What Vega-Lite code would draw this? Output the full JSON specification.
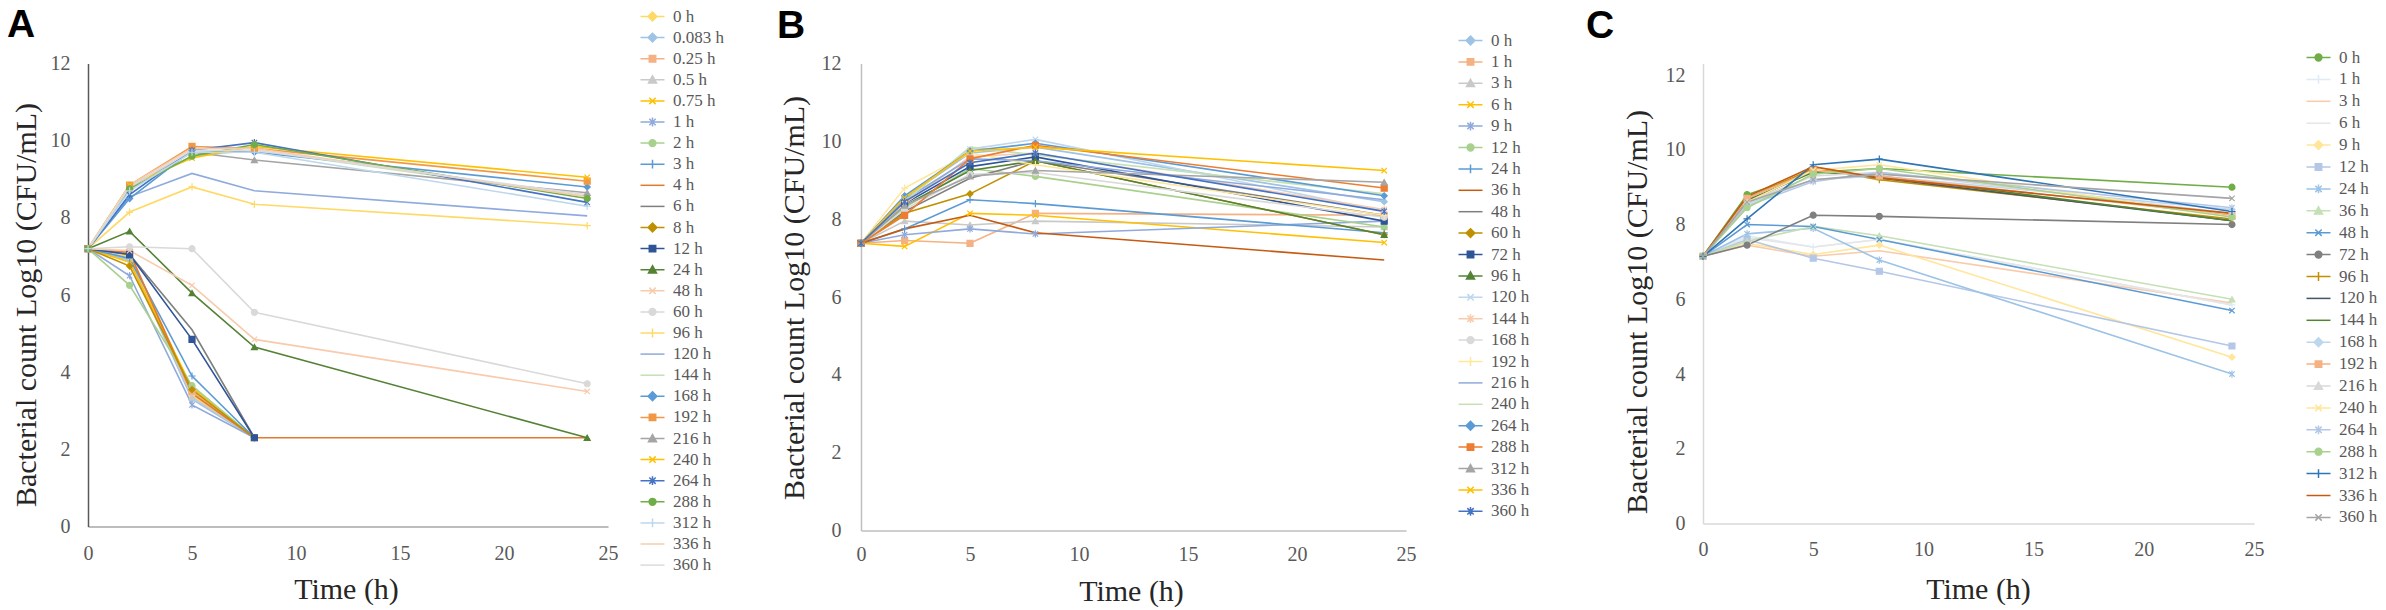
{
"$schema": "https://vega.github.io/schema/vega-lite/v6.json",
"background": "white",
"padding": {"left": 7, "top": 5.5, "right": 0, "bottom": 0},
"config": {"view": {"stroke": null}, "legend": {"labelFont": "Liberation Serif", "labelFontSize": 17, "labelColor": "#595959", "symbolSize": 64, "symbolStrokeWidth": 1.5, "labelOffset": 12, "padding": 0, "symbolLimit": 60, "labelLimit": 200}},
"datasets": {
"A": [
{"series":"0 h","time":0,"count":7.2},{"series":"0 h","time":2,"count":7.0},{"series":"0 h","time":5,"count":3.4},{"series":"0 h","time":8,"count":2.3},
{"series":"0.083 h","time":0,"count":7.2},{"series":"0.083 h","time":2,"count":6.9},{"series":"0.083 h","time":5,"count":3.3},{"series":"0.083 h","time":8,"count":2.3},
{"series":"0.25 h","time":0,"count":7.2},{"series":"0.25 h","time":2,"count":7.1},{"series":"0.25 h","time":5,"count":3.5},{"series":"0.25 h","time":8,"count":2.3},
{"series":"0.5 h","time":0,"count":7.2},{"series":"0.5 h","time":2,"count":6.95},{"series":"0.5 h","time":5,"count":3.35},{"series":"0.5 h","time":8,"count":2.3},
{"series":"0.75 h","time":0,"count":7.2},{"series":"0.75 h","time":2,"count":6.85},{"series":"0.75 h","time":5,"count":3.6},{"series":"0.75 h","time":8,"count":2.3},
{"series":"1 h","time":0,"count":7.2},{"series":"1 h","time":2,"count":6.5},{"series":"1 h","time":5,"count":3.15},{"series":"1 h","time":8,"count":2.3},
{"series":"2 h","time":0,"count":7.2},{"series":"2 h","time":2,"count":6.25},{"series":"2 h","time":5,"count":3.65},{"series":"2 h","time":8,"count":2.3},
{"series":"3 h","time":0,"count":7.2},{"series":"3 h","time":2,"count":6.95},{"series":"3 h","time":5,"count":3.9},{"series":"3 h","time":8,"count":2.3},
{"series":"4 h","time":0,"count":7.2},{"series":"4 h","time":2,"count":7.1},{"series":"4 h","time":5,"count":3.45},{"series":"4 h","time":8,"count":2.3},{"series":"4 h","time":24,"count":2.3},
{"series":"6 h","time":0,"count":7.2},{"series":"6 h","time":2,"count":7.05},{"series":"6 h","time":5,"count":5.1},{"series":"6 h","time":8,"count":2.3},
{"series":"8 h","time":0,"count":7.2},{"series":"8 h","time":2,"count":6.75},{"series":"8 h","time":5,"count":3.55},{"series":"8 h","time":8,"count":2.3},
{"series":"12 h","time":0,"count":7.2},{"series":"12 h","time":2,"count":7.05},{"series":"12 h","time":5,"count":4.85},{"series":"12 h","time":8,"count":2.3},
{"series":"24 h","time":0,"count":7.2},{"series":"24 h","time":2,"count":7.65},{"series":"24 h","time":5,"count":6.05},{"series":"24 h","time":8,"count":4.65},{"series":"24 h","time":24,"count":2.3},
{"series":"48 h","time":0,"count":7.2},{"series":"48 h","time":2,"count":7.15},{"series":"48 h","time":5,"count":6.25},{"series":"48 h","time":8,"count":4.85},{"series":"48 h","time":24,"count":3.5},
{"series":"60 h","time":0,"count":7.2},{"series":"60 h","time":2,"count":7.25},{"series":"60 h","time":5,"count":7.2},{"series":"60 h","time":8,"count":5.55},{"series":"60 h","time":24,"count":3.7},
{"series":"96 h","time":0,"count":7.2},{"series":"96 h","time":2,"count":8.15},{"series":"96 h","time":5,"count":8.8},{"series":"96 h","time":8,"count":8.35},{"series":"96 h","time":24,"count":7.8},
{"series":"120 h","time":0,"count":7.2},{"series":"120 h","time":2,"count":8.55},{"series":"120 h","time":5,"count":9.15},{"series":"120 h","time":8,"count":8.7},{"series":"120 h","time":24,"count":8.05},
{"series":"144 h","time":0,"count":7.2},{"series":"144 h","time":2,"count":8.75},{"series":"144 h","time":5,"count":9.6},{"series":"144 h","time":8,"count":9.75},{"series":"144 h","time":24,"count":8.55},
{"series":"168 h","time":0,"count":7.2},{"series":"168 h","time":2,"count":8.5},{"series":"168 h","time":5,"count":9.75},{"series":"168 h","time":8,"count":9.7},{"series":"168 h","time":24,"count":8.8},
{"series":"192 h","time":0,"count":7.2},{"series":"192 h","time":2,"count":8.85},{"series":"192 h","time":5,"count":9.85},{"series":"192 h","time":8,"count":9.8},{"series":"192 h","time":24,"count":8.95},
{"series":"216 h","time":0,"count":7.2},{"series":"216 h","time":2,"count":8.8},{"series":"216 h","time":5,"count":9.7},{"series":"216 h","time":8,"count":9.5},{"series":"216 h","time":24,"count":8.65},
{"series":"240 h","time":0,"count":7.2},{"series":"240 h","time":2,"count":8.85},{"series":"240 h","time":5,"count":9.55},{"series":"240 h","time":8,"count":9.85},{"series":"240 h","time":24,"count":9.05},
{"series":"264 h","time":0,"count":7.2},{"series":"264 h","time":2,"count":8.6},{"series":"264 h","time":5,"count":9.75},{"series":"264 h","time":8,"count":9.95},{"series":"264 h","time":24,"count":8.4},
{"series":"288 h","time":0,"count":7.2},{"series":"288 h","time":2,"count":8.75},{"series":"288 h","time":5,"count":9.6},{"series":"288 h","time":8,"count":9.9},{"series":"288 h","time":24,"count":8.5},
{"series":"312 h","time":0,"count":7.2},{"series":"312 h","time":2,"count":8.7},{"series":"312 h","time":5,"count":9.7},{"series":"312 h","time":8,"count":9.7},{"series":"312 h","time":24,"count":8.3},
{"series":"336 h","time":0,"count":7.2},{"series":"336 h","time":2,"count":8.85},{"series":"336 h","time":5,"count":9.8},{"series":"336 h","time":8,"count":9.8},{"series":"336 h","time":24,"count":8.55},
{"series":"360 h","time":0,"count":7.2},{"series":"360 h","time":2,"count":8.8},{"series":"360 h","time":5,"count":9.75},{"series":"360 h","time":8,"count":9.75},{"series":"360 h","time":24,"count":8.6}
],
"B": [
{"series":"0 h","time":0,"count":7.38},{"series":"0 h","time":2,"count":8.55},{"series":"0 h","time":5,"count":9.7},{"series":"0 h","time":8,"count":9.85},{"series":"0 h","time":24,"count":8.45},
{"series":"1 h","time":0,"count":7.38},{"series":"1 h","time":2,"count":7.45},{"series":"1 h","time":5,"count":7.38},{"series":"1 h","time":8,"count":8.15},{"series":"1 h","time":24,"count":8.1},
{"series":"3 h","time":0,"count":7.38},{"series":"3 h","time":2,"count":7.95},{"series":"3 h","time":5,"count":7.85},{"series":"3 h","time":8,"count":7.95},{"series":"3 h","time":24,"count":7.8},
{"series":"6 h","time":0,"count":7.38},{"series":"6 h","time":2,"count":7.3},{"series":"6 h","time":5,"count":8.15},{"series":"6 h","time":8,"count":8.1},{"series":"6 h","time":24,"count":7.4},
{"series":"9 h","time":0,"count":7.38},{"series":"9 h","time":2,"count":7.6},{"series":"9 h","time":5,"count":7.75},{"series":"9 h","time":8,"count":7.62},{"series":"9 h","time":24,"count":7.95},
{"series":"12 h","time":0,"count":7.38},{"series":"12 h","time":2,"count":8.3},{"series":"12 h","time":5,"count":9.3},{"series":"12 h","time":8,"count":9.1},{"series":"12 h","time":24,"count":7.8},
{"series":"24 h","time":0,"count":7.38},{"series":"24 h","time":2,"count":7.75},{"series":"24 h","time":5,"count":8.5},{"series":"24 h","time":8,"count":8.4},{"series":"24 h","time":24,"count":7.65},
{"series":"36 h","time":0,"count":7.38},{"series":"36 h","time":2,"count":7.75},{"series":"36 h","time":5,"count":8.1},{"series":"36 h","time":8,"count":7.65},{"series":"36 h","time":24,"count":6.95},
{"series":"48 h","time":0,"count":7.38},{"series":"48 h","time":2,"count":8.2},{"series":"48 h","time":5,"count":9.05},{"series":"48 h","time":8,"count":9.5},{"series":"48 h","time":24,"count":8.1},
{"series":"60 h","time":0,"count":7.38},{"series":"60 h","time":2,"count":8.15},{"series":"60 h","time":5,"count":8.65},{"series":"60 h","time":8,"count":9.5},{"series":"60 h","time":24,"count":7.6},
{"series":"72 h","time":0,"count":7.38},{"series":"72 h","time":2,"count":8.4},{"series":"72 h","time":5,"count":9.35},{"series":"72 h","time":8,"count":9.6},{"series":"72 h","time":24,"count":7.95},
{"series":"96 h","time":0,"count":7.38},{"series":"96 h","time":2,"count":8.35},{"series":"96 h","time":5,"count":9.25},{"series":"96 h","time":8,"count":9.5},{"series":"96 h","time":24,"count":7.6},
{"series":"120 h","time":0,"count":7.38},{"series":"120 h","time":2,"count":8.5},{"series":"120 h","time":5,"count":9.8},{"series":"120 h","time":8,"count":10.05},{"series":"120 h","time":24,"count":8.2},
{"series":"144 h","time":0,"count":7.38},{"series":"144 h","time":2,"count":8.4},{"series":"144 h","time":5,"count":9.6},{"series":"144 h","time":8,"count":9.7},{"series":"144 h","time":24,"count":8.25},
{"series":"168 h","time":0,"count":7.38},{"series":"168 h","time":2,"count":8.25},{"series":"168 h","time":5,"count":9.15},{"series":"168 h","time":8,"count":9.2},{"series":"168 h","time":24,"count":8.05},
{"series":"192 h","time":0,"count":7.38},{"series":"192 h","time":2,"count":8.8},{"series":"192 h","time":5,"count":9.7},{"series":"192 h","time":8,"count":9.4},{"series":"192 h","time":24,"count":8.1},
{"series":"216 h","time":0,"count":7.38},{"series":"216 h","time":2,"count":8.5},{"series":"216 h","time":5,"count":9.55},{"series":"216 h","time":8,"count":9.5},{"series":"216 h","time":24,"count":8.5},
{"series":"240 h","time":0,"count":7.38},{"series":"240 h","time":2,"count":8.45},{"series":"240 h","time":5,"count":9.85},{"series":"240 h","time":8,"count":9.65},{"series":"240 h","time":24,"count":8.65},
{"series":"264 h","time":0,"count":7.38},{"series":"264 h","time":2,"count":8.6},{"series":"264 h","time":5,"count":9.75},{"series":"264 h","time":8,"count":9.95},{"series":"264 h","time":24,"count":8.6},
{"series":"288 h","time":0,"count":7.38},{"series":"288 h","time":2,"count":8.1},{"series":"288 h","time":5,"count":9.55},{"series":"288 h","time":8,"count":9.9},{"series":"288 h","time":24,"count":8.8},
{"series":"312 h","time":0,"count":7.38},{"series":"312 h","time":2,"count":8.35},{"series":"312 h","time":5,"count":9.1},{"series":"312 h","time":8,"count":9.25},{"series":"312 h","time":24,"count":8.95},
{"series":"336 h","time":0,"count":7.38},{"series":"336 h","time":2,"count":8.55},{"series":"336 h","time":5,"count":9.75},{"series":"336 h","time":8,"count":9.85},{"series":"336 h","time":24,"count":9.25},
{"series":"360 h","time":0,"count":7.38},{"series":"360 h","time":2,"count":8.45},{"series":"360 h","time":5,"count":9.45},{"series":"360 h","time":8,"count":9.7},{"series":"360 h","time":24,"count":8.2}
],
"C": [
{"series":"0 h","time":0,"count":7.15},{"series":"0 h","time":2,"count":8.8},{"series":"0 h","time":5,"count":9.4},{"series":"0 h","time":8,"count":9.5},{"series":"0 h","time":24,"count":9.0},
{"series":"1 h","time":0,"count":7.15},{"series":"1 h","time":2,"count":7.7},{"series":"1 h","time":5,"count":7.4},{"series":"1 h","time":8,"count":7.6},{"series":"1 h","time":24,"count":5.85},
{"series":"3 h","time":0,"count":7.15},{"series":"3 h","time":2,"count":7.45},{"series":"3 h","time":5,"count":7.15},{"series":"3 h","time":8,"count":7.3},{"series":"3 h","time":24,"count":5.9},
{"series":"6 h","time":0,"count":7.15},{"series":"6 h","time":2,"count":7.65},{"series":"6 h","time":5,"count":7.4},{"series":"6 h","time":8,"count":7.6},{"series":"6 h","time":24,"count":5.85},
{"series":"9 h","time":0,"count":7.15},{"series":"9 h","time":2,"count":7.5},{"series":"9 h","time":5,"count":7.2},{"series":"9 h","time":8,"count":7.45},{"series":"9 h","time":24,"count":4.45},
{"series":"12 h","time":0,"count":7.15},{"series":"12 h","time":2,"count":7.6},{"series":"12 h","time":5,"count":7.1},{"series":"12 h","time":8,"count":6.75},{"series":"12 h","time":24,"count":4.75},
{"series":"24 h","time":0,"count":7.15},{"series":"24 h","time":2,"count":7.75},{"series":"24 h","time":5,"count":7.9},{"series":"24 h","time":8,"count":7.05},{"series":"24 h","time":24,"count":4.0},
{"series":"36 h","time":0,"count":7.15},{"series":"36 h","time":2,"count":7.55},{"series":"36 h","time":5,"count":7.95},{"series":"36 h","time":8,"count":7.7},{"series":"36 h","time":24,"count":6.0},
{"series":"48 h","time":0,"count":7.15},{"series":"48 h","time":2,"count":8.0},{"series":"48 h","time":5,"count":7.95},{"series":"48 h","time":8,"count":7.6},{"series":"48 h","time":24,"count":5.7},
{"series":"72 h","time":0,"count":7.15},{"series":"72 h","time":2,"count":7.45},{"series":"72 h","time":5,"count":8.25},{"series":"72 h","time":8,"count":8.22},{"series":"72 h","time":24,"count":8.0},
{"series":"96 h","time":0,"count":7.15},{"series":"96 h","time":2,"count":8.7},{"series":"96 h","time":5,"count":9.5},{"series":"96 h","time":8,"count":9.2},{"series":"96 h","time":24,"count":8.15},
{"series":"120 h","time":0,"count":7.15},{"series":"120 h","time":2,"count":8.6},{"series":"120 h","time":5,"count":9.45},{"series":"120 h","time":8,"count":9.25},{"series":"120 h","time":24,"count":8.1},
{"series":"144 h","time":0,"count":7.15},{"series":"144 h","time":2,"count":8.65},{"series":"144 h","time":5,"count":9.4},{"series":"144 h","time":8,"count":9.3},{"series":"144 h","time":24,"count":8.1},
{"series":"168 h","time":0,"count":7.15},{"series":"168 h","time":2,"count":8.55},{"series":"168 h","time":5,"count":9.2},{"series":"168 h","time":8,"count":9.3},{"series":"168 h","time":24,"count":8.4},
{"series":"192 h","time":0,"count":7.15},{"series":"192 h","time":2,"count":8.7},{"series":"192 h","time":5,"count":9.45},{"series":"192 h","time":8,"count":9.3},{"series":"192 h","time":24,"count":8.25},
{"series":"216 h","time":0,"count":7.15},{"series":"216 h","time":2,"count":8.6},{"series":"216 h","time":5,"count":9.3},{"series":"216 h","time":8,"count":9.4},{"series":"216 h","time":24,"count":8.3},
{"series":"240 h","time":0,"count":7.15},{"series":"240 h","time":2,"count":8.6},{"series":"240 h","time":5,"count":9.45},{"series":"240 h","time":8,"count":9.6},{"series":"240 h","time":24,"count":8.2},
{"series":"264 h","time":0,"count":7.15},{"series":"264 h","time":2,"count":8.5},{"series":"264 h","time":5,"count":9.15},{"series":"264 h","time":8,"count":9.4},{"series":"264 h","time":24,"count":8.45},
{"series":"288 h","time":0,"count":7.15},{"series":"288 h","time":2,"count":8.45},{"series":"288 h","time":5,"count":9.35},{"series":"288 h","time":8,"count":9.5},{"series":"288 h","time":24,"count":8.2},
{"series":"312 h","time":0,"count":7.15},{"series":"312 h","time":2,"count":8.15},{"series":"312 h","time":5,"count":9.6},{"series":"312 h","time":8,"count":9.75},{"series":"312 h","time":24,"count":8.35},
{"series":"336 h","time":0,"count":7.15},{"series":"336 h","time":2,"count":8.75},{"series":"336 h","time":5,"count":9.55},{"series":"336 h","time":8,"count":9.25},{"series":"336 h","time":24,"count":8.3},
{"series":"360 h","time":0,"count":7.15},{"series":"360 h","time":2,"count":8.6},{"series":"360 h","time":5,"count":9.2},{"series":"360 h","time":8,"count":9.35},{"series":"360 h","time":24,"count":8.7}
]
},
"bounds": "flush",
"spacing": 253,
"resolve": {"scale": {"color": "independent", "fill": "independent", "stroke": "independent", "shape": "independent"}, "legend": {"color": "independent", "fill": "independent", "stroke": "independent", "shape": "independent"}},
"hconcat": [
{
"width": 520, "height": 463,
"data": {"name": "A"},
"title": {"text": "A", "anchor": "start", "frame": "group", "font": "Liberation Sans", "fontSize": 39, "fontWeight": "bold", "color": "#000000", "dx": -81, "dy": 35, "offset": -32.5, "baseline": "alphabetic"},
"encoding": {
"x": {"field": "time", "type": "quantitative", "scale": {"domain": [0, 25], "nice": false}, "axis": {"values": [0,5,10,15,20,25], "title": "Time (h)", "grid": false, "ticks": false, "domainColor": "#A6A6A6", "domainWidth": 1.5, "labelFont": "Liberation Serif", "labelFontSize": 20, "labelColor": "#595959", "labelPadding": 17, "labelFlush": false, "titleFont": "Liberation Serif", "titleFontSize": 30, "titleFontWeight": "normal", "titleColor": "#262626", "titleBaseline": "alphabetic", "titleX": 258, "titleY": 72}},
"y": {"field": "count", "type": "quantitative", "scale": {"domain": [0, 12], "nice": false}, "axis": {"values": [0,2,4,6,8,10,12], "title": "Bacterial count Log10 (CFU/mL)", "grid": false, "ticks": false, "domainColor": "#595959", "domainWidth": 1.5, "labelFont": "Liberation Serif", "labelFontSize": 20, "labelColor": "#595959", "labelPadding": 18, "titleFont": "Liberation Serif", "titleFontSize": 30, "titleFontWeight": "normal", "titleColor": "#262626", "titleBaseline": "alphabetic", "titleAngle": 270, "titleX": -53, "titleY": 241}}
},
"layer": [
{"mark": {"type": "line", "strokeWidth": 1.6}, "encoding": {"color": {"field": "series", "type": "nominal",
 "scale": {"domain": ["0 h","0.083 h","0.25 h","0.5 h","0.75 h","1 h","2 h","3 h","4 h","6 h","8 h","12 h","24 h","48 h","60 h","96 h","120 h","144 h","168 h","192 h","216 h","240 h","264 h","288 h","312 h","336 h","360 h"],
 "range": ["#FFD966","#9DC3E6","#F4B183","#C9C9C9","#FFC000","#8FAADC","#A9D18E","#5B9BD5","#E07A2E","#7F7F7F","#BF9000","#2F5597","#548235","#F8CBAD","#D9D9D9","#FFD966","#8FAADC","#C5E0B4","#5B9BD5","#F09845","#A5A5A5","#FFC000","#4472C4","#70AD47","#BDD7EE","#F8CBAD","#DBDBDB"]},
 "legend": {"orient": "none", "legendX": 556, "legendY": -55.5, "title": null, "padding": 0, "symbolSize": 64, "symbolStrokeWidth": 1.5, "labelOffset": 12, "rowPadding": 3.1, "labelFont": "Liberation Serif", "labelFontSize": 17, "labelColor": "#595959", "labelLimit": 200, "symbolLimit": 60,
  "encode": {"labels": {"update": {"font": {"value": "Liberation Serif"}, "fontSize": {"value": 17}, "fill": {"value": "#595959"}}}, "symbols": {"update": {
   "shape": {"signal": "['M-3,0L3,0M0,-1.1L1.1,0L0,1.1L-1.1,0Z','M-3,0L3,0M-0.8,-0.8L0.8,-0.8L0.8,0.8L-0.8,0.8Z','M-3,0L3,0M0,-1L1,0.8L-1,0.8Z','M-3,0L3,0M0.85,0A0.85,0.85,0,1,1,-0.85,0A0.85,0.85,0,1,1,0.85,0Z','M-3,0L3,0M-0.8,-0.8L0.8,0.8M-0.8,0.8L0.8,-0.8','M-3,0L3,0M-0.8,-0.8L0.8,0.8M-0.8,0.8L0.8,-0.8M0,-1.1L0,1.1','M-3,0L3,0M0,-1.1L0,1.1','M-3,0L3,0'][[0,0,1,2,4,5,3,6,7,7,0,1,2,4,3,6,7,7,0,1,2,4,5,3,6,7,7][datum.index]]"},
   "stroke": {"signal": "['#FFD966','#9DC3E6','#F4B183','#C9C9C9','#FFC000','#8FAADC','#A9D18E','#5B9BD5','#E07A2E','#7F7F7F','#BF9000','#2F5597','#548235','#F8CBAD','#D9D9D9','#FFD966','#8FAADC','#C5E0B4','#5B9BD5','#F09845','#A5A5A5','#FFC000','#4472C4','#70AD47','#BDD7EE','#F8CBAD','#DBDBDB'][datum.index]"},
   "fill": {"signal": "[0,0,1,2,4,5,3,6,7,7,0,1,2,4,3,6,7,7,0,1,2,4,5,3,6,7,7][datum.index] <= 3 ? ['#FFD966','#9DC3E6','#F4B183','#C9C9C9','#FFC000','#8FAADC','#A9D18E','#5B9BD5','#E07A2E','#7F7F7F','#BF9000','#2F5597','#548235','#F8CBAD','#D9D9D9','#FFD966','#8FAADC','#C5E0B4','#5B9BD5','#F09845','#A5A5A5','#FFC000','#4472C4','#70AD47','#BDD7EE','#F8CBAD','#DBDBDB'][datum.index] : 'transparent'"},
   "opacity": {"value": 1}
  }}}}}}},
{"mark": {"type": "point", "filled": true, "size": 36, "strokeWidth": 1.2, "opacity": 1}, "encoding": {
 "fill": {"field": "series", "type": "nominal", "legend": null, "scale": {"domain": ["0 h","0.083 h","0.25 h","0.5 h","0.75 h","1 h","2 h","3 h","4 h","6 h","8 h","12 h","24 h","48 h","60 h","96 h","120 h","144 h","168 h","192 h","216 h","240 h","264 h","288 h","312 h","336 h","360 h","zz"], "range": ["#FFD966","#9DC3E6","#F4B183","#C9C9C9","#FFC000","#8FAADC","#A9D18E","#5B9BD5","#E07A2E","#7F7F7F","#BF9000","#2F5597","#548235","#F8CBAD","#D9D9D9","#FFD966","#8FAADC","#C5E0B4","#5B9BD5","#F09845","#A5A5A5","#FFC000","#4472C4","#70AD47","#BDD7EE","#F8CBAD","#DBDBDB","#000000"]}},
 "stroke": {"field": "series", "type": "nominal", "legend": null, "scale": {"domain": ["0 h","0.083 h","0.25 h","0.5 h","0.75 h","1 h","2 h","3 h","4 h","6 h","8 h","12 h","24 h","48 h","60 h","96 h","120 h","144 h","168 h","192 h","216 h","240 h","264 h","288 h","312 h","336 h","360 h","zz"], "range": ["#FFD966","#9DC3E6","#F4B183","#C9C9C9","#FFC000","#8FAADC","#A9D18E","#5B9BD5","#E07A2E","#7F7F7F","#BF9000","#2F5597","#548235","#F8CBAD","#D9D9D9","#FFD966","#8FAADC","#C5E0B4","#5B9BD5","#F09845","#A5A5A5","#FFC000","#4472C4","#70AD47","#BDD7EE","#F8CBAD","#DBDBDB","#000000"]}},
 "shape": {"field": "series", "type": "nominal", "legend": null, "scale": {"domain": ["0 h","0.083 h","0.25 h","0.5 h","0.75 h","1 h","2 h","3 h","4 h","6 h","8 h","12 h","24 h","48 h","60 h","96 h","120 h","144 h","168 h","192 h","216 h","240 h","264 h","288 h","312 h","336 h","360 h","zz"], "range": ["diamond","diamond","square","triangle-up","M-0.9,-0.9L0.9,0.9M-0.9,0.9L0.9,-0.9","M-0.9,-0.9L0.9,0.9M-0.9,0.9L0.9,-0.9M0,-1.2L0,1.2","circle","M-1.2,0L1.2,0M0,-1.2L0,1.2","M0,0","M0,0","diamond","square","triangle-up","M-0.9,-0.9L0.9,0.9M-0.9,0.9L0.9,-0.9","circle","M-1.2,0L1.2,0M0,-1.2L0,1.2","M0,0","M0,0","diamond","square","triangle-up","M-0.9,-0.9L0.9,0.9M-0.9,0.9L0.9,-0.9","M-0.9,-0.9L0.9,0.9M-0.9,0.9L0.9,-0.9M0,-1.2L0,1.2","circle","M-1.2,0L1.2,0M0,-1.2L0,1.2","M0,0","M0,0","M0,0"]}}
}}
]
},
{
"bounds": "flush",
"spacing": 297,
"resolve": {"scale": {"color": "independent", "fill": "independent", "stroke": "independent", "shape": "independent"}, "legend": {"color": "independent", "fill": "independent", "stroke": "independent", "shape": "independent"}},
"hconcat": [
{
"width": 545, "height": 467,
"data": {"name": "B"},
"title": {"text": "B", "anchor": "start", "frame": "group", "font": "Liberation Sans", "fontSize": 39, "fontWeight": "bold", "color": "#000000", "dx": -84, "dy": 37, "offset": -7.5, "baseline": "alphabetic"},
"encoding": {
"x": {"field": "time", "type": "quantitative", "scale": {"domain": [0, 25], "nice": false}, "axis": {"values": [0,5,10,15,20,25], "title": "Time (h)", "grid": false, "ticks": false, "domainColor": "#BFBFBF", "domainWidth": 1.5, "labelFont": "Liberation Serif", "labelFontSize": 20, "labelColor": "#595959", "labelPadding": 14, "labelFlush": false, "titleFont": "Liberation Serif", "titleFontSize": 30, "titleFontWeight": "normal", "titleColor": "#262626", "titleBaseline": "alphabetic", "titleX": 270, "titleY": 70}},
"y": {"field": "count", "type": "quantitative", "scale": {"domain": [0, 12], "nice": false}, "axis": {"values": [0,2,4,6,8,10,12], "title": "Bacterial count Log10 (CFU/mL)", "grid": false, "ticks": false, "domainColor": "#BFBFBF", "domainWidth": 1.5, "labelFont": "Liberation Serif", "labelFontSize": 20, "labelColor": "#595959", "labelPadding": 20, "titleFont": "Liberation Serif", "titleFontSize": 30, "titleFontWeight": "normal", "titleColor": "#262626", "titleBaseline": "alphabetic", "titleAngle": 270, "titleX": -58, "titleY": 234}}
},
"layer": [
{"mark": {"type": "line", "strokeWidth": 1.6}, "encoding": {"color": {"field": "series", "type": "nominal",
 "scale": {"domain": ["0 h","1 h","3 h","6 h","9 h","12 h","24 h","36 h","48 h","60 h","72 h","96 h","120 h","144 h","168 h","192 h","216 h","240 h","264 h","288 h","312 h","336 h","360 h"],
 "range": ["#9DC3E6","#F4B183","#C9C9C9","#FFC000","#8FAADC","#A9D18E","#5B9BD5","#C55A11","#7F7F7F","#BF9000","#2F5597","#548235","#BDD7EE","#F8CBAD","#D9D9D9","#FFE699","#8FAADC","#C5E0B4","#5B9BD5","#ED7D31","#A5A5A5","#FFC000","#4472C4"]},
 "legend": {"orient": "none", "legendX": 601, "legendY": -31.5, "title": null, "padding": 0, "symbolSize": 64, "symbolStrokeWidth": 1.5, "labelOffset": 12, "rowPadding": 3.4, "labelFont": "Liberation Serif", "labelFontSize": 17, "labelColor": "#595959", "labelLimit": 200, "symbolLimit": 60,
  "encode": {"labels": {"update": {"font": {"value": "Liberation Serif"}, "fontSize": {"value": 17}, "fill": {"value": "#595959"}}}, "symbols": {"update": {
   "shape": {"signal": "['M-3,0L3,0M0,-1.1L1.1,0L0,1.1L-1.1,0Z','M-3,0L3,0M-0.8,-0.8L0.8,-0.8L0.8,0.8L-0.8,0.8Z','M-3,0L3,0M0,-1L1,0.8L-1,0.8Z','M-3,0L3,0M0.85,0A0.85,0.85,0,1,1,-0.85,0A0.85,0.85,0,1,1,0.85,0Z','M-3,0L3,0M-0.8,-0.8L0.8,0.8M-0.8,0.8L0.8,-0.8','M-3,0L3,0M-0.8,-0.8L0.8,0.8M-0.8,0.8L0.8,-0.8M0,-1.1L0,1.1','M-3,0L3,0M0,-1.1L0,1.1','M-3,0L3,0'][[0,1,2,4,5,3,6,7,7,0,1,2,4,5,3,6,7,7,0,1,2,4,5][datum.index]]"},
   "stroke": {"signal": "['#9DC3E6','#F4B183','#C9C9C9','#FFC000','#8FAADC','#A9D18E','#5B9BD5','#C55A11','#7F7F7F','#BF9000','#2F5597','#548235','#BDD7EE','#F8CBAD','#D9D9D9','#FFE699','#8FAADC','#C5E0B4','#5B9BD5','#ED7D31','#A5A5A5','#FFC000','#4472C4'][datum.index]"},
   "fill": {"signal": "[0,1,2,4,5,3,6,7,7,0,1,2,4,5,3,6,7,7,0,1,2,4,5][datum.index] <= 3 ? ['#9DC3E6','#F4B183','#C9C9C9','#FFC000','#8FAADC','#A9D18E','#5B9BD5','#C55A11','#7F7F7F','#BF9000','#2F5597','#548235','#BDD7EE','#F8CBAD','#D9D9D9','#FFE699','#8FAADC','#C5E0B4','#5B9BD5','#ED7D31','#A5A5A5','#FFC000','#4472C4'][datum.index] : 'transparent'"},
   "opacity": {"value": 1}
  }}}}}}},
{"mark": {"type": "point", "filled": true, "size": 36, "strokeWidth": 1.2, "opacity": 1}, "encoding": {
 "fill": {"field": "series", "type": "nominal", "legend": null, "scale": {"domain": ["0 h","1 h","3 h","6 h","9 h","12 h","24 h","36 h","48 h","60 h","72 h","96 h","120 h","144 h","168 h","192 h","216 h","240 h","264 h","288 h","312 h","336 h","360 h","zz"], "range": ["#9DC3E6","#F4B183","#C9C9C9","#FFC000","#8FAADC","#A9D18E","#5B9BD5","#C55A11","#7F7F7F","#BF9000","#2F5597","#548235","#BDD7EE","#F8CBAD","#D9D9D9","#FFE699","#8FAADC","#C5E0B4","#5B9BD5","#ED7D31","#A5A5A5","#FFC000","#4472C4","#000000"]}},
 "stroke": {"field": "series", "type": "nominal", "legend": null, "scale": {"domain": ["0 h","1 h","3 h","6 h","9 h","12 h","24 h","36 h","48 h","60 h","72 h","96 h","120 h","144 h","168 h","192 h","216 h","240 h","264 h","288 h","312 h","336 h","360 h","zz"], "range": ["#9DC3E6","#F4B183","#C9C9C9","#FFC000","#8FAADC","#A9D18E","#5B9BD5","#C55A11","#7F7F7F","#BF9000","#2F5597","#548235","#BDD7EE","#F8CBAD","#D9D9D9","#FFE699","#8FAADC","#C5E0B4","#5B9BD5","#ED7D31","#A5A5A5","#FFC000","#4472C4","#000000"]}},
 "shape": {"field": "series", "type": "nominal", "legend": null, "scale": {"domain": ["0 h","1 h","3 h","6 h","9 h","12 h","24 h","36 h","48 h","60 h","72 h","96 h","120 h","144 h","168 h","192 h","216 h","240 h","264 h","288 h","312 h","336 h","360 h","zz"], "range": ["diamond","square","triangle-up","M-0.9,-0.9L0.9,0.9M-0.9,0.9L0.9,-0.9","M-0.9,-0.9L0.9,0.9M-0.9,0.9L0.9,-0.9M0,-1.2L0,1.2","circle","M-1.2,0L1.2,0M0,-1.2L0,1.2","M0,0","M0,0","diamond","square","triangle-up","M-0.9,-0.9L0.9,0.9M-0.9,0.9L0.9,-0.9","M-0.9,-0.9L0.9,0.9M-0.9,0.9L0.9,-0.9M0,-1.2L0,1.2","circle","M-1.2,0L1.2,0M0,-1.2L0,1.2","M0,0","M0,0","diamond","square","triangle-up","M-0.9,-0.9L0.9,0.9M-0.9,0.9L0.9,-0.9","M-0.9,-0.9L0.9,0.9M-0.9,0.9L0.9,-0.9M0,-1.2L0,1.2","M0,0"]}}
}}
]
},
{
"width": 551, "height": 460,
"data": {"name": "C"},
"title": {"text": "C", "anchor": "start", "frame": "group", "font": "Liberation Sans", "fontSize": 39, "fontWeight": "bold", "color": "#000000", "dx": -117, "dy": 37, "offset": 9.5, "baseline": "alphabetic"},
"encoding": {
"x": {"field": "time", "type": "quantitative", "scale": {"domain": [0, 25], "nice": false}, "axis": {"values": [0,5,10,15,20,25], "title": "Time (h)", "grid": false, "ticks": false, "domainColor": "#D9D9D9", "domainWidth": 1.5, "labelFont": "Liberation Serif", "labelFontSize": 20, "labelColor": "#595959", "labelPadding": 16, "labelFlush": false, "titleFont": "Liberation Serif", "titleFontSize": 30, "titleFontWeight": "normal", "titleColor": "#262626", "titleBaseline": "alphabetic", "titleX": 275, "titleY": 75}},
"y": {"field": "count", "type": "quantitative", "scale": {"domain": [0, 12.31], "nice": false}, "axis": {"values": [0,2,4,6,8,10,12], "title": "Bacterial count Log10 (CFU/mL)", "grid": false, "ticks": false, "domainColor": "#D9D9D9", "domainWidth": 1.5, "labelFont": "Liberation Serif", "labelFontSize": 20, "labelColor": "#595959", "labelPadding": 18, "titleFont": "Liberation Serif", "titleFontSize": 30, "titleFontWeight": "normal", "titleColor": "#262626", "titleBaseline": "alphabetic", "titleAngle": 270, "titleX": -57, "titleY": 248}}
},
"layer": [
{"mark": {"type": "line", "strokeWidth": 1.6}, "encoding": {"color": {"field": "series", "type": "nominal",
 "scale": {"domain": ["0 h","1 h","3 h","6 h","9 h","12 h","24 h","36 h","48 h","72 h","96 h","120 h","144 h","168 h","192 h","216 h","240 h","264 h","288 h","312 h","336 h","360 h"],
 "range": ["#70AD47","#DEEBF7","#F8CBAD","#E7E6E6","#FFE699","#B4C7E7","#9DC3E6","#C5E0B4","#5B9BD5","#7F7F7F","#BF9000","#44546A","#548235","#BDD7EE","#F4B183","#D9D9D9","#FFE699","#B4C7E7","#A9D18E","#2E75B6","#C55A11","#A5A5A5"]},
 "legend": {"orient": "none", "legendX": 607, "legendY": -14.5, "title": null, "padding": 0, "symbolSize": 64, "symbolStrokeWidth": 1.5, "labelOffset": 12, "rowPadding": 3.9, "labelFont": "Liberation Serif", "labelFontSize": 17, "labelColor": "#595959", "labelLimit": 200, "symbolLimit": 60,
  "encode": {"labels": {"update": {"font": {"value": "Liberation Serif"}, "fontSize": {"value": 17}, "fill": {"value": "#595959"}}}, "symbols": {"update": {
   "shape": {"signal": "['M-3,0L3,0M0,-1.1L1.1,0L0,1.1L-1.1,0Z','M-3,0L3,0M-0.8,-0.8L0.8,-0.8L0.8,0.8L-0.8,0.8Z','M-3,0L3,0M0,-1L1,0.8L-1,0.8Z','M-3,0L3,0M0.85,0A0.85,0.85,0,1,1,-0.85,0A0.85,0.85,0,1,1,0.85,0Z','M-3,0L3,0M-0.8,-0.8L0.8,0.8M-0.8,0.8L0.8,-0.8','M-3,0L3,0M-0.8,-0.8L0.8,0.8M-0.8,0.8L0.8,-0.8M0,-1.1L0,1.1','M-3,0L3,0M0,-1.1L0,1.1','M-3,0L3,0'][[3,6,7,7,0,1,5,2,4,3,6,7,7,0,1,2,4,5,3,6,7,4][datum.index]]"},
   "stroke": {"signal": "['#70AD47','#DEEBF7','#F8CBAD','#E7E6E6','#FFE699','#B4C7E7','#9DC3E6','#C5E0B4','#5B9BD5','#7F7F7F','#BF9000','#44546A','#548235','#BDD7EE','#F4B183','#D9D9D9','#FFE699','#B4C7E7','#A9D18E','#2E75B6','#C55A11','#A5A5A5'][datum.index]"},
   "fill": {"signal": "[3,6,7,7,0,1,5,2,4,3,6,7,7,0,1,2,4,5,3,6,7,4][datum.index] <= 3 ? ['#70AD47','#DEEBF7','#F8CBAD','#E7E6E6','#FFE699','#B4C7E7','#9DC3E6','#C5E0B4','#5B9BD5','#7F7F7F','#BF9000','#44546A','#548235','#BDD7EE','#F4B183','#D9D9D9','#FFE699','#B4C7E7','#A9D18E','#2E75B6','#C55A11','#A5A5A5'][datum.index] : 'transparent'"},
   "opacity": {"value": 1}
  }}}}}}},
{"mark": {"type": "point", "filled": true, "size": 36, "strokeWidth": 1.2, "opacity": 1}, "encoding": {
 "fill": {"field": "series", "type": "nominal", "legend": null, "scale": {"domain": ["0 h","1 h","3 h","6 h","9 h","12 h","24 h","36 h","48 h","72 h","96 h","120 h","144 h","168 h","192 h","216 h","240 h","264 h","288 h","312 h","336 h","360 h","zz"], "range": ["#70AD47","#DEEBF7","#F8CBAD","#E7E6E6","#FFE699","#B4C7E7","#9DC3E6","#C5E0B4","#5B9BD5","#7F7F7F","#BF9000","#44546A","#548235","#BDD7EE","#F4B183","#D9D9D9","#FFE699","#B4C7E7","#A9D18E","#2E75B6","#C55A11","#A5A5A5","#000000"]}},
 "stroke": {"field": "series", "type": "nominal", "legend": null, "scale": {"domain": ["0 h","1 h","3 h","6 h","9 h","12 h","24 h","36 h","48 h","72 h","96 h","120 h","144 h","168 h","192 h","216 h","240 h","264 h","288 h","312 h","336 h","360 h","zz"], "range": ["#70AD47","#DEEBF7","#F8CBAD","#E7E6E6","#FFE699","#B4C7E7","#9DC3E6","#C5E0B4","#5B9BD5","#7F7F7F","#BF9000","#44546A","#548235","#BDD7EE","#F4B183","#D9D9D9","#FFE699","#B4C7E7","#A9D18E","#2E75B6","#C55A11","#A5A5A5","#000000"]}},
 "shape": {"field": "series", "type": "nominal", "legend": null, "scale": {"domain": ["0 h","1 h","3 h","6 h","9 h","12 h","24 h","36 h","48 h","72 h","96 h","120 h","144 h","168 h","192 h","216 h","240 h","264 h","288 h","312 h","336 h","360 h","zz"], "range": ["circle","M-1.2,0L1.2,0M0,-1.2L0,1.2","M0,0","M0,0","diamond","square","M-0.9,-0.9L0.9,0.9M-0.9,0.9L0.9,-0.9M0,-1.2L0,1.2","triangle-up","M-0.9,-0.9L0.9,0.9M-0.9,0.9L0.9,-0.9","circle","M-1.2,0L1.2,0M0,-1.2L0,1.2","M0,0","M0,0","diamond","square","triangle-up","M-0.9,-0.9L0.9,0.9M-0.9,0.9L0.9,-0.9","M-0.9,-0.9L0.9,0.9M-0.9,0.9L0.9,-0.9M0,-1.2L0,1.2","circle","M-1.2,0L1.2,0M0,-1.2L0,1.2","M0,0","M-0.9,-0.9L0.9,0.9M-0.9,0.9L0.9,-0.9","M0,0"]}}
}}
]
}
]
}
]
}
